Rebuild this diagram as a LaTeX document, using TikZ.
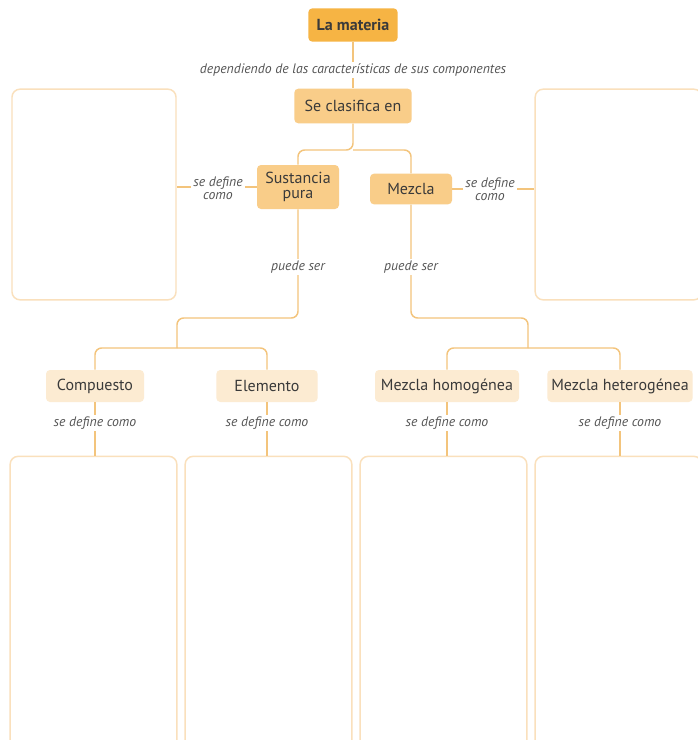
\documentclass[tikz,border=0pt]{standalone}
\usepackage{fontspec}
\setmainfont{PT Sans}
\begin{document}
\begin{tikzpicture}[x=0.75pt,y=-0.75pt,
  conn/.style={draw=lineor,line width=1.1pt,rounded corners=5pt},
  bigbox/.style={draw=boxor,line width=1.1pt,fill=white,rounded corners=6pt,inner sep=0pt},
  topnode/.style={fill=darkor,rounded corners=3pt,text=txt,font=\fontsize{12}{14}\selectfont\bfseries,minimum width=67pt,minimum height=25pt,inner sep=2pt},
  midnode/.style={fill=midor,rounded corners=3pt,text=txt,font=\fontsize{12}{12.5}\selectfont,minimum height=23pt,inner sep=2pt,align=center},
  lownode/.style={fill=lightor,rounded corners=3pt,text=txt,font=\fontsize{12}{14}\selectfont,minimum height=24pt,inner sep=2pt},
  lbl/.style={fill=white,text=lbltxt,font=\fontsize{10.3}{11}\selectfont\itshape,inner sep=1.5pt,align=center}]
\definecolor{lineor}{HTML}{F3C47C}
\definecolor{boxor}{HTML}{FAE0BC}
\definecolor{darkor}{HTML}{F6B444}
\definecolor{midor}{HTML}{F9CD89}
\definecolor{lightor}{HTML}{FCEBD2}
\definecolor{txt}{HTML}{3A3A3A}
\definecolor{lbltxt}{HTML}{555555}
\useasboundingbox (0,0) rectangle (698,740);
\clip (0,0) rectangle (698,740);
\fill[white] (0,0) rectangle (698,740);

% main nodes
\node[topnode] (lm) at (353,25) {La materia};
\node[midnode,minimum width=88pt,minimum height=26pt] (sc) at (353,106) {Se clasifica en};
\node[midnode,minimum width=61.5pt,minimum height=33pt] (sp) at (298,187) {Sustancia\\[-1pt]pura};
\node[midnode,minimum width=61.5pt] (mz) at (411,189) {Mezcla};

\node[lownode,minimum width=73.5pt] (cp) at (95,386) {Compuesto};
\node[lownode,minimum width=76pt] (el) at (267,386) {Elemento};
\node[lownode,minimum width=108pt] (mh) at (447,386) {Mezcla homogénea};
\node[lownode,minimum width=109pt] (mt) at (620,386) {Mezcla heterogénea};

% big boxes
\node[bigbox,minimum width=123pt,minimum height=158pt] (bl) at (94,194.5) {};
\node[bigbox,minimum width=125pt,minimum height=158pt] (br) at (618.5,194.5) {};
\node[bigbox,minimum width=125pt,minimum height=220pt] (b1) at (93.5,603) {};
\node[bigbox,minimum width=125pt,minimum height=220pt] (b2) at (268.5,603) {};
\node[bigbox,minimum width=125pt,minimum height=220pt] (b3) at (443.5,603) {};
\node[bigbox,minimum width=125pt,minimum height=220pt] (b4) at (618.5,603) {};

% junctions
\coordinate (j1) at (353,150);
\coordinate (j2) at (177,348);
\coordinate (j3) at (528,348);

% connectors
\draw[conn] (lm.south) -- (sc.north);
\draw[conn] (sc.south) -- (j1) -| (sp.north);
\draw[conn] (j1) -| (mz.north);
\draw[conn] (sp.south) -- (298,318) -- (177,318) -- (j2);
\draw[conn] (j2) -| (cp.north);
\draw[conn] (j2) -| (el.north);
\draw[conn] (mz.south) -- (411,318) -- (528,318) -- (j3);
\draw[conn] (j3) -| (mh.north);
\draw[conn] (j3) -| (mt.north);
\draw[conn] (sp.west) -- (sp.west -| bl.east);
\draw[conn] (mz.east) -- (mz.east -| br.west);
\draw[conn] (cp.south) -- (cp.south |- b1.north);
\draw[conn] (el.south) -- (el.south |- b2.north);
\draw[conn] (mh.south) -- (mh.south |- b3.north);
\draw[conn] (mt.south) -- (mt.south |- b4.north);

% labels
\node[lbl] (dep) at (353,70) {dependiendo de las características de sus componentes};
\node[lbl] (sdl) at (218,188) {se define\\[-1pt]como};
\node[lbl] (sdr) at (490,189) {se define\\[-1pt]como};
\node[lbl] (psl) at (298,267) {puede ser};
\node[lbl] (psr) at (411,267) {puede ser};
\node[lbl] (d1) at (95,423) {se define como};
\node[lbl] (d2) at (267,423) {se define como};
\node[lbl] (d3) at (447,423) {se define como};
\node[lbl] (d4) at (620,423) {se define como};
\end{tikzpicture}
\end{document}
